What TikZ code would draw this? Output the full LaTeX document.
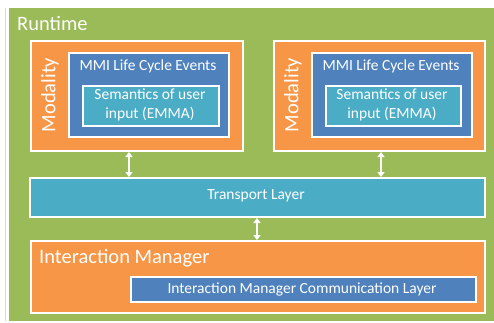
\documentclass[tikz,border=0pt]{standalone}
\usepackage{fontspec}
\setmainfont{Carlito}
\usetikzlibrary{arrows.meta,shadows}
\definecolor{rtgreen}{HTML}{9BBB59}
\definecolor{modorange}{HTML}{F79646}
\definecolor{evblue}{HTML}{4F81BD}
\definecolor{semcyan}{HTML}{4BACC6}
\begin{document}
\begin{tikzpicture}[x=1pt,y=-1pt,
  panel/.style={draw=white, line width=2pt, anchor=north west, inner sep=0pt,
    drop shadow={shadow xshift=0.8pt, shadow yshift=-1pt, opacity=0.3}},
  small/.style={text=white, font=\fontsize{15.5}{18.5}\selectfont},
  big/.style={text=white, font=\fontsize{20.5}{24}\selectfont},
  dbl/.style={draw=white, line width=1.5pt,
    {Triangle[width=7pt,length=5pt]}-{Triangle[width=7pt,length=5pt]}}]
\useasboundingbox (0,0) rectangle (494,323);

% runtime background
\fill[rtgreen] (9,8) rectangle (494,321);
\draw[black!15] (5,8) -- (5,321);
\node[big, anchor=west, inner sep=0pt] (rt) at (17,23) {Runtime};

% left modality
\node[panel, fill=modorange, minimum width=212pt, minimum height=110pt] (modL) at (30,40) {};
\node[big, rotate=90] (modLt) at (50,95) {Modality};
\node[panel, fill=evblue, minimum width=160pt, minimum height=84pt] (evL) at (68,52) {};
\node[small] (evLt) at (148,66) {MMI Life Cycle Events};
\node[panel, fill=semcyan, minimum width=136pt, minimum height=40pt] (semL) at (82,85) {};
\node[small, align=center] (semLt) at (150,105) {Semantics of user\\input (EMMA)};

% right modality
\node[panel, fill=modorange, minimum width=211pt, minimum height=110pt] (modR) at (273,40) {};
\node[big, rotate=90] (modRt) at (293,95) {Modality};
\node[panel, fill=evblue, minimum width=160pt, minimum height=84pt] (evR) at (311,52) {};
\node[small] (evRt) at (391,66) {MMI Life Cycle Events};
\node[panel, fill=semcyan, minimum width=135pt, minimum height=40pt] (semR) at (325,85) {};
\node[small, align=center] (semRt) at (392,105) {Semantics of user\\input (EMMA)};

% transport layer
\node[panel, fill=semcyan, minimum width=455pt, minimum height=39pt] (tl) at (29,177) {};
\node[small] (tlt) at (256,196) {Transport Layer};

% interaction manager
\node[panel, fill=modorange, minimum width=454pt, minimum height=72pt] (im) at (30,240) {};
\node[big, anchor=west, inner sep=0pt] (imt) at (39,258) {Interaction Manager};
\node[panel, fill=evblue, minimum width=345pt, minimum height=25pt] (imc) at (130,276) {};
\node[small] (imct) at (302,289) {Interaction Manager Communication Layer};

% connectors
\coordinate (aL) at (129,0);
\coordinate (aR) at (381,0);
\coordinate (aB) at (257,0);
\draw[dbl] (aL |- modL.south) -- (aL |- tl.north);
\draw[dbl] (aR |- modR.south) -- (aR |- tl.north);
\draw[dbl] (aB |- tl.south) -- (aB |- im.north);
\end{tikzpicture}
\end{document}
